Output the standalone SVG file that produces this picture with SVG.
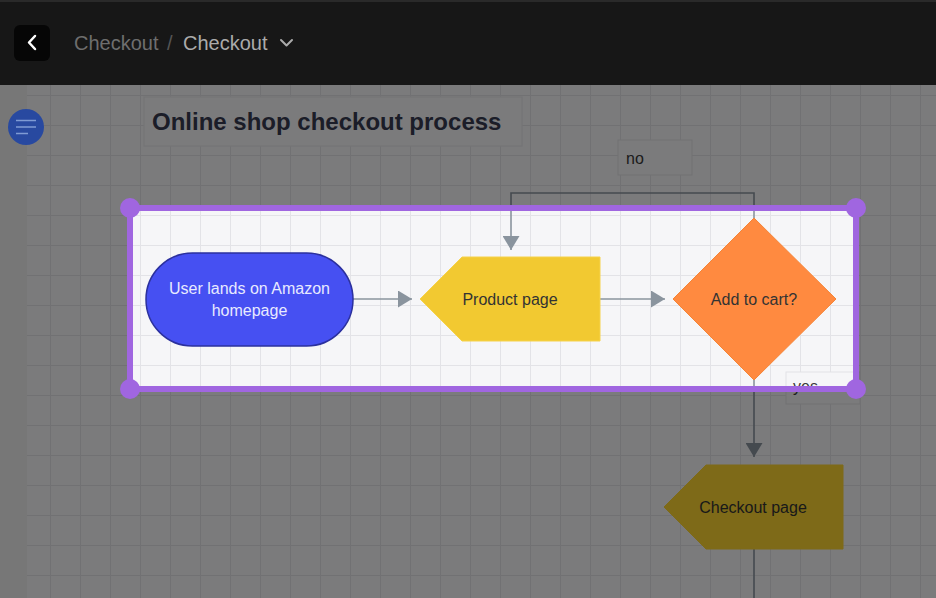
<svg xmlns="http://www.w3.org/2000/svg" width="936" height="598" viewBox="0 0 936 598">
<style>
text{font-family:"Liberation Sans",Arial,sans-serif}
.lbl{font-size:16px;fill:#333}
.conn{fill:none;stroke:#8a949e;stroke-width:1.6}
.lblbox{fill:#f6f6f8;stroke:#e2e2e6;stroke-width:1}
</style>
<defs>
<pattern id="grid" patternUnits="userSpaceOnUse" x="20" y="5" width="30" height="30">
<path d="M0 0.5H30M0.5 0V30" stroke="#e3e3e7" stroke-width="1" fill="none"/>
</pattern>
<marker id="arr" markerUnits="userSpaceOnUse" markerWidth="14" markerHeight="17" refX="14" refY="8.5" orient="auto">
<path d="M0 0L14 8.5L0 17Z" fill="#8a949e"/>
</marker>
</defs>
<rect x="0" y="0" width="936" height="598" fill="#f6f6f8"/>
<rect x="0" y="0" width="936" height="598" fill="url(#grid)"/>
<rect x="0" y="85" width="27" height="513" fill="#eeeeef"/>
<g id="title">
<rect x="144" y="97" width="378" height="49" fill="#f7f7f9" stroke="#e8e8ec" stroke-width="1.2"/>
<text x="152" y="130" style="font-size:24px;font-weight:bold;fill:#363a50">Online shop checkout process</text>
</g>
<g id="label-no">
<rect class="lblbox" x="618" y="140" width="74" height="35"/>
<text class="lbl" x="626" y="164" style="fill:#3a3a3a">no</text>
</g>
<g id="label-yes">
<rect class="lblbox" x="786" y="372" width="74" height="32"/>
<text class="lbl" x="793" y="392" style="fill:#3a3a3a">yes</text>
</g>
<g id="connectors">
<path class="conn" d="M353 299H412" marker-end="url(#arr)"/>
<path class="conn" d="M600 299H665" marker-end="url(#arr)"/>
<path class="conn" d="M754 218V193H511V250" marker-end="url(#arr)"/>
<path class="conn" d="M754 380V457" marker-end="url(#arr)"/>
<path class="conn" d="M754 549V598"/>
</g>
<g id="start">
<rect x="146" y="253" width="207" height="93" rx="46.5" fill="#4650f2" stroke="#2b309e" stroke-width="1.5"/>
<text x="249.5" y="294" text-anchor="middle" style="font-size:16px;fill:#e8eaff">User lands on Amazon</text>
<text x="249.5" y="316" text-anchor="middle" style="font-size:16px;fill:#e8eaff">homepage</text>
</g>
<g id="product-page">
<path d="M420 299L462 257H600V341H462Z" fill="#f2c931" stroke="#f6d24a" stroke-width="1"/>
<text class="lbl" x="510" y="305" text-anchor="middle">Product page</text>
</g>
<g id="add-to-cart">
<path d="M754 218L836 299L754 380L673 299Z" fill="#ff8a40" stroke="#f58436" stroke-width="1"/>
<text class="lbl" x="754" y="305" text-anchor="middle">Add to cart?</text>
</g>
<g id="checkout-page">
<path d="M664 507L706 465H843V549H706Z" fill="#fcd430" stroke="#fcd430" stroke-width="1"/>
<text class="lbl" x="753" y="513" text-anchor="middle">Checkout page</text>
</g>
<path d="M0 85H936V598H0ZM130 208V389H856V208Z" fill="#000" fill-opacity="0.5" fill-rule="evenodd"/>
<g id="selection">
<rect x="130" y="208" width="726" height="181" fill="none" stroke="#a066e0" stroke-width="6"/>
<circle cx="130" cy="208" r="10" fill="#a066e0"/>
<circle cx="856" cy="208" r="10" fill="#a066e0"/>
<circle cx="130" cy="389" r="10" fill="#a066e0"/>
<circle cx="856" cy="389" r="10" fill="#a066e0"/>
</g>
<g id="menu-button">
<circle cx="26" cy="127" r="18" fill="#2849a0"/>
<path d="M16 120.5H36M16 127H36M16 133.5H28" stroke="#7f9bd4" stroke-width="1.5" fill="none"/>
</g>
<g id="topbar">
<rect x="0" y="0" width="936" height="85" fill="#171717"/>
<rect x="0" y="0" width="936" height="2" fill="#2a2a2a"/>
<rect x="14" y="25" width="36" height="36" rx="6" fill="#060606"/>
<path d="M35 36L29 42.5L35 49" stroke="#ffffff" stroke-width="2.5" fill="none" stroke-linecap="round" stroke-linejoin="round"/>
<text x="74" y="50" style="font-size:20px;fill:#6e6e6e">Checkout</text>
<text x="167" y="50" style="font-size:20px;fill:#555555">/</text>
<text x="183" y="50" style="font-size:20px;fill:#ababab">Checkout</text>
<path d="M281 40L286.5 45.5L292 40" stroke="#ababab" stroke-width="2" fill="none" stroke-linecap="round" stroke-linejoin="round"/>
</g>
</svg>
